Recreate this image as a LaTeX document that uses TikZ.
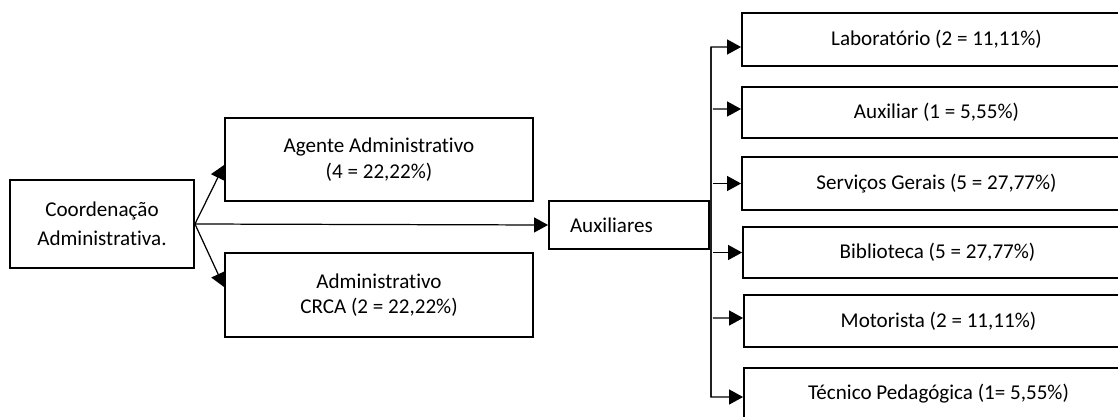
\documentclass[tikz,border=0pt]{standalone}
\usepackage{fontspec}
\setmainfont{Carlito}[Ligatures=NoCommon]
\usetikzlibrary{arrows.meta}

\tikzset{
    caixa/.style={draw=black, line width=1.1pt, fill=white, align=center, font=\fontsize{12}{14.5}\selectfont},
    seta/.style={line width=0.7pt, -{Triangle[length=0.28cm, width=0.3cm]}},
}

\begin{document}
\begin{tikzpicture}[x=0.02cm, y=-0.02cm]
    \useasboundingbox (0,0) rectangle (1118,416);
    \clip (0,0) rectangle (1118,416);
    % lado esquerdo
    \node[caixa, minimum width=3.68cm, minimum height=1.76cm] (coord) at (102,224) {Coordenação\\[2pt] Administrativa.};
    \node[caixa, minimum width=6.16cm, minimum height=1.66cm] (agente) at (379,159.5) {Agente Administrativo\\ (4 = 22,22\%)};
    \node[caixa, minimum width=6.16cm, minimum height=1.68cm] (crca) at (379,295) {Administrativo\\ CRCA (2 = 22,22\%)};
    \node[caixa, minimum width=3.2cm, minimum height=0.96cm, inner xsep=0.42cm, text width=2.36cm, align=left] (aux) at (629,225) {Auxiliares};
    % lado direito
    \node[caixa, minimum width=7.78cm, minimum height=1.06cm] (lab) at (936.5,39.5) {Laboratório (2 = 11,11\%)};
    \node[caixa, minimum width=7.78cm, minimum height=1.02cm] (auxil) at (936.5,112.5) {Auxiliar (1 = 5,55\%)};
    \node[caixa, minimum width=7.78cm, minimum height=1.06cm] (serv) at (936.5,183.5) {Serviços Gerais (5 = 27,77\%)};
    \node[caixa, minimum width=7.78cm, minimum height=1.02cm] (bib) at (937.5,252.5) {Biblioteca (5 = 27,77\%)};
    \node[caixa, minimum width=7.78cm, minimum height=1.04cm] (mot) at (938.5,321) {Motorista (2 = 11,11\%)};
    \node[caixa, minimum width=7.78cm, minimum height=1.04cm] (tec) at (938.5,394) {Técnico Pedagógica (1= 5,55\%)};
    \coordinate (topo) at (711,47);
    \coordinate (base) at (711,397);
    % setas
    \draw[seta] (coord.east) -- ([yshift=-0.11cm]agente.west);
    \draw[seta] (coord.east) -- ([yshift=0.16cm]crca.west);
    \draw[seta] (coord.east) -- (aux.west);
    \draw[seta] (base) -- (topo) -- ([yshift=-0.15cm]lab.west);
    \draw[seta] (topo) -- (base) -- ([yshift=-0.06cm]tec.west);
    \draw[seta] ([xshift=1pt]topo |- 0,109) -- ([yshift=0.07cm]auxil.west);
    \draw[seta] ([xshift=1pt]topo |- serv.west) -- (serv.west);
    \draw[seta] ([xshift=1pt]topo |- bib.west) -- (bib.west);
    \draw[seta] ([xshift=1pt]topo |- 0,318) -- ([yshift=0.06cm]mot.west);
\end{tikzpicture}
\end{document}
